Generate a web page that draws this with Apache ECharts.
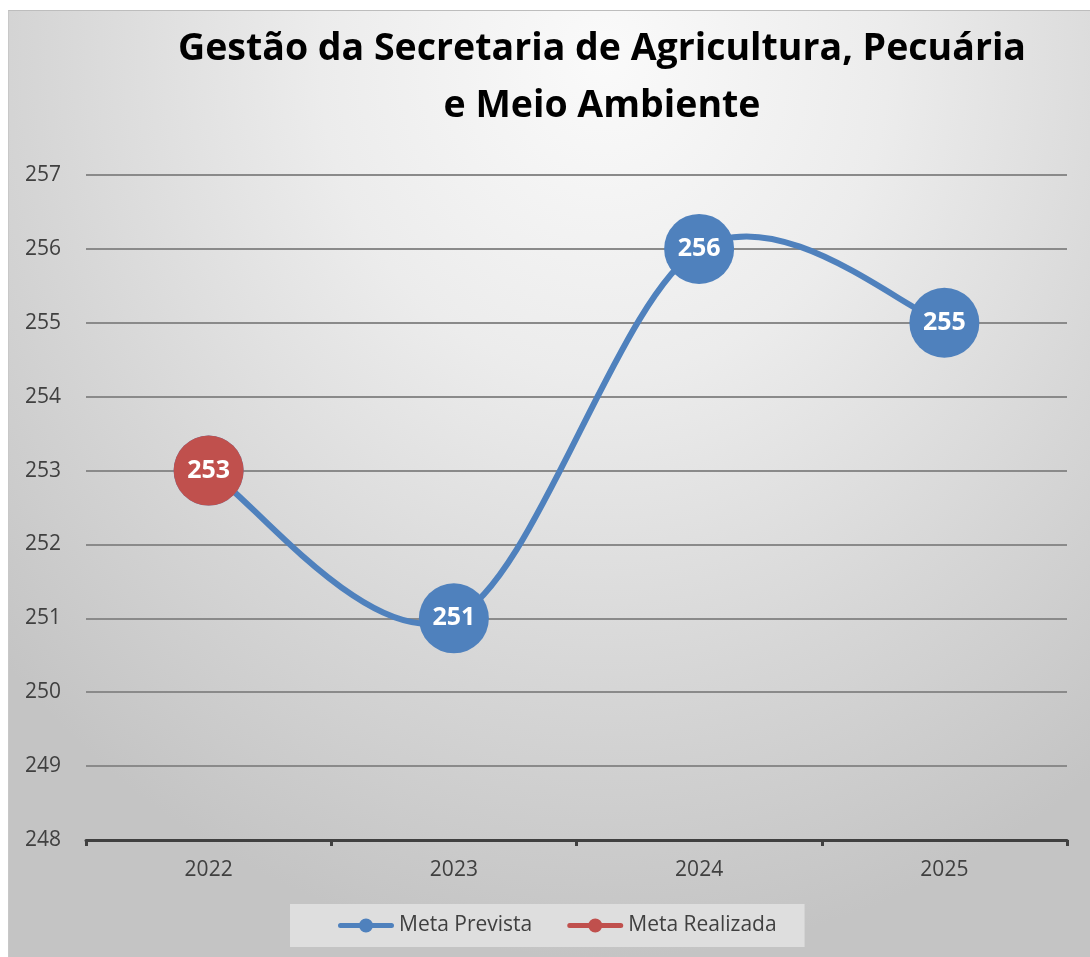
<!DOCTYPE html>
<html>
<head>
<meta charset="utf-8">
<script src="https://cdn.jsdelivr.net/npm/echarts@6/dist/echarts.min.js"></script>
<style>
html,body{margin:0;padding:0;background:#fff;width:1090px;height:957px;overflow:hidden;}
#box{position:absolute;left:8px;top:10px;width:1082px;height:947px;
background:radial-gradient(ellipse 75% 95% at 55% 5%, #fafafa 0%, #ececec 35%, #d6d6d6 70%, #c4c4c4 100%);
border-top:1px solid #bdbdbd;border-left:1px solid #c8c8c8;}
#chart{position:absolute;left:-8px;top:-10px;width:1090px;height:957px;}
</style>
</head>
<body>
<div id="box"><div id="chart"></div></div>
<script>
var categories = ['2022', '2023', '2024', '2025'];
var metaPrevista = [253, 251, 256, 255];
var metaRealizada = [253, null, null, null];
var yMin = 248, yMax = 257, yStep = 1;

var chart = echarts.init(document.getElementById('chart'), null, {renderer: 'canvas'});
var labelStyle = {show: true, position: 'inside', color: '#fff', fontWeight: 'bold', fontSize: 25, fontFamily: 'Open Sans'};
var legendIcon = 'path://M2.5,4.5 L22,4.5 L22,9.5 L2.5,9.5 A2.5,2.5 0 0,1 2.5,4.5 Z M34,4.5 L53.5,4.5 A2.5,2.5 0 0,1 53.5,9.5 L34,9.5 Z M21,7 A7,7 0 1,1 35,7 A7,7 0 1,1 21,7 Z';

// Excel-style smoothed line (Catmull-Rom, tension 1/6) through points mapped by the axes
function smoothPath(api) {
  var pts = metaPrevista.map(function (v, i) { return api.coord([i, v]); });
  var d = 'M' + pts[0][0] + ',' + pts[0][1];
  for (var i = 0; i < pts.length - 1; i++) {
    var p0 = pts[Math.max(i - 1, 0)], p1 = pts[i], p2 = pts[i + 1], p3 = pts[Math.min(i + 2, pts.length - 1)];
    var c1x = p1[0] + (p2[0] - p0[0]) / 6, c1y = p1[1] + (p2[1] - p0[1]) / 6;
    var c2x = p2[0] - (p3[0] - p1[0]) / 6, c2y = p2[1] - (p3[1] - p1[1]) / 6;
    d += ' C' + c1x + ',' + c1y + ' ' + c2x + ',' + c2y + ' ' + p2[0] + ',' + p2[1];
  }
  return d;
}

chart.setOption({
  backgroundColor: 'transparent',
  animation: false,
  title: {
    text: 'Gestão da Secretaria de Agricultura, Pecuária\ne Meio Ambiente',
    left: 596, top: 15, textAlign: 'center',
    textStyle: {fontFamily: 'Open Sans', fontWeight: 'bold', fontSize: 37.5, color: '#000', lineHeight: 57}
  },
  legend: {
    bottom: 11, left: 289,
    padding: [11, 28, 11, 48],
    backgroundColor: '#dedede',
    itemWidth: 56, itemHeight: 14, itemGap: 35,
    textStyle: {fontFamily: 'Open Sans', fontSize: 21, color: '#404040'},
    data: [
      {name: 'Meta Prevista', icon: legendIcon},
      {name: 'Meta Realizada', icon: legendIcon}
    ]
  },
  grid: {left: 85, right: 24, top: 174, bottom: 118, containLabel: false, outerBoundsMode: 'none'},
  xAxis: {
    type: 'category', data: categories, boundaryGap: true,
    axisLine: {lineStyle: {color: '#404040', width: 3}},
    axisTick: {show: true, length: 6, lineStyle: {color: '#404040', width: 3}},
    axisLabel: {fontFamily: 'Open Sans', fontSize: 21, color: '#404040', margin: 20}
  },
  yAxis: {
    type: 'value', min: yMin, max: yMax, interval: yStep,
    axisLine: {show: false}, axisTick: {show: false},
    axisLabel: {fontFamily: 'Open Sans', fontSize: 21, color: '#404040', margin: 25},
    splitLine: {lineStyle: {color: '#8a8a8a', width: 2}}
  },
  series: [
    {
      name: 'curve', type: 'custom', z: 1,
      data: metaPrevista.map(function (v, i) { return [i, v]; }),
      encode: {x: 0, y: 1},
      renderItem: function (params, api) {
        if (params.dataIndex !== 0) return {type: 'group', children: []};
        return {
          type: 'path',
          shape: {pathData: smoothPath(api)},
          style: {stroke: '#4F81BD', lineWidth: 6, fill: null, lineCap: 'round', lineJoin: 'round'}
        };
      },
      silent: true
    },
    {
      name: 'Meta Prevista', type: 'line', data: metaPrevista,
      symbol: 'circle', symbolSize: 70,
      lineStyle: {color: '#4F81BD', width: 6, opacity: 0},
      itemStyle: {color: '#4F81BD'},
      label: labelStyle, z: 2
    },
    {
      name: 'Meta Realizada', type: 'line', data: metaRealizada,
      symbol: 'circle', symbolSize: 70,
      lineStyle: {color: '#C0504D', width: 6},
      itemStyle: {color: '#C0504D'},
      label: labelStyle, z: 3
    }
  ]
});
</script>
</body>
</html>
